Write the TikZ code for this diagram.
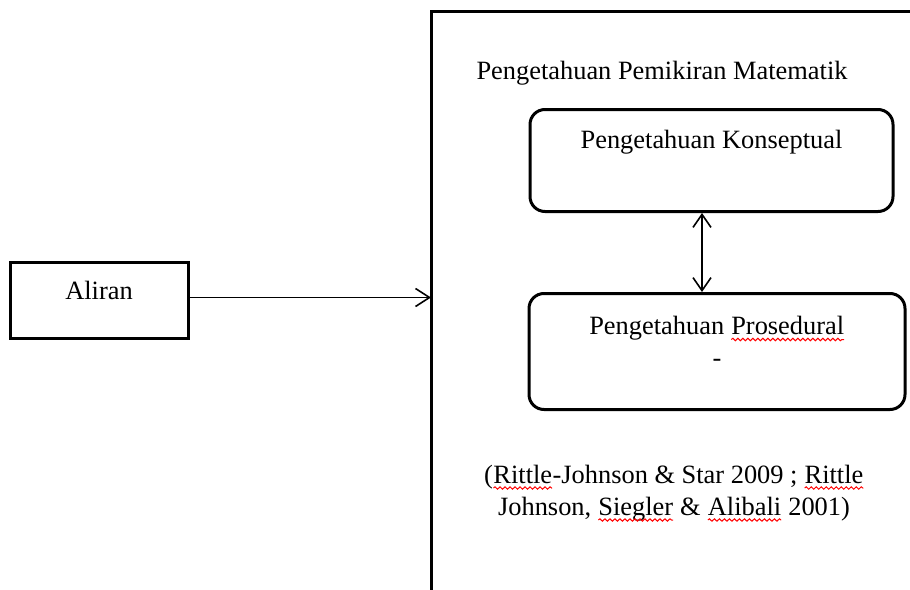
\documentclass[tikz,border=0pt]{standalone}
\usepackage{fontspec}
\setmainfont{Liberation Serif}
\usetikzlibrary{positioning,arrows.meta,decorations.pathmorphing}
\newcommand\salah[1]{\tikz[baseline=(w.base)]{\node[draw=none,inner sep=0pt,outer sep=0pt,
  minimum width=0pt,minimum height=0pt,text height=,text depth=,anchor=base,sharp corners] (w) {#1};
  \draw[red,line width=0.5pt,sharp corners,decorate,decoration={snake,amplitude=0.6pt,segment length=2.5pt}]
    ([yshift=-2.5pt]w.base west) -- ([yshift=-2.5pt]w.base east);}}
\tikzset{
  kotak/.style={rectangle,draw=black,line width=1.5pt,align=center,inner sep=0pt,
    font=\fontsize{13.2}{16}\selectfont,anchor=north},
  bulat/.style={kotak,rounded corners=7.5pt},
  teks/.style={align=center,inner sep=0pt,font=\fontsize{13.2}{16}\selectfont},
  panah/.style={-{Straight Barb[length=7pt,width=9pt]},line width=0.8pt},
  duapanah/.style={{Straight Barb[length=6.5pt,width=9pt]}-{Straight Barb[length=6.5pt,width=9pt]},line width=0.8pt},
}
\begin{document}
\begin{tikzpicture}[x=0.5pt,y=-0.5pt]
  \useasboundingbox (0,0) rectangle (910,589);
  \clip (0,0) rectangle (910,589);
  \coordinate (bingkai) at (431,11);
  \draw[line width=1.5pt] (bingkai) rectangle (960,640);
  \node[kotak,minimum width=89pt,text height=18.5pt,text depth=19.5pt] (aliran) at (99,261) {Aliran};
  \node[bulat,minimum width=181.5pt,text height=19.5pt,text depth=31.5pt] (konsep) at (711.5,108) {Pengetahuan Konseptual};
  \node[teks,above=11pt of konsep,xshift=-24.75pt] (judul) {Pengetahuan Pemikiran Matematik};
  \node[bulat,minimum width=188pt,text height=36.5pt,text depth=21.5pt] (prosedur) at (717,292) {Pengetahuan \salah{Prosedural}\\-};
  \node[teks,anchor=base] (sumber) at (674,515) {(\salah{Rittle}-Johnson \& Star 2009 ; \salah{Rittle}\\Johnson, \salah{Siegler} \& \salah{Alibali} 2001)};
  \draw[panah] ([yshift=1.5pt]aliran.east) -- ([yshift=1.5pt]aliran.east -| bingkai);
  \draw[duapanah] ([xshift=-4.75pt]konsep.south) -- ([xshift=-4.75pt]konsep.south |- prosedur.north);
\end{tikzpicture}
\end{document}
